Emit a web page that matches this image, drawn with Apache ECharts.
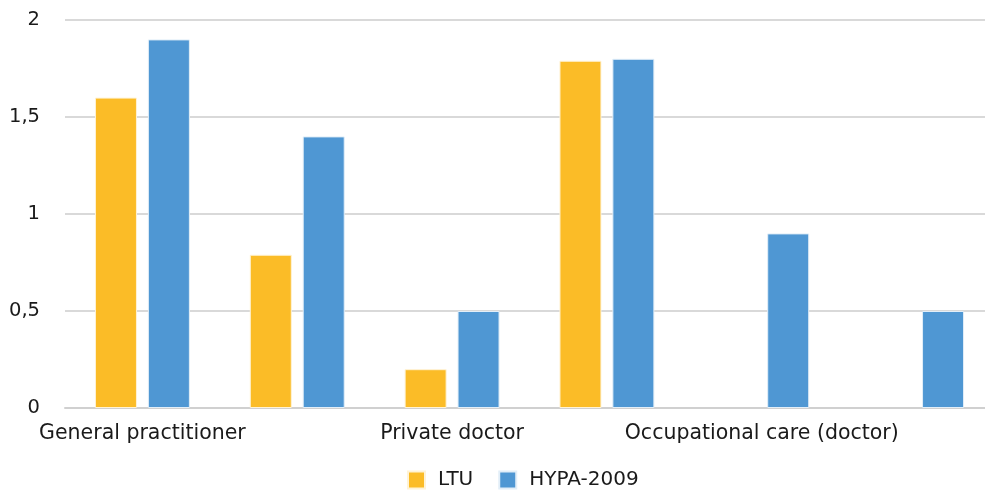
<!DOCTYPE html>
<html style="height: 100%">
<head>
<meta charset="utf-8">
<script src="https://cdn.jsdelivr.net/npm/echarts@6/dist/echarts.min.js"></script>
</head>
<body style="height: 100%; margin: 0; background: #fff">
<div id="container" style="width: 985px; height: 490px"></div>
<script type="text/javascript">
// categories: only every second label is printed in the original
var categories = ['General practitioner', '', 'Private doctor', ' ', 'Occupational care (doctor)', '  '];
var ltu = [1.6, 0.79, 0.2, 1.79, null, null];
var hypa = [1.9, 1.4, 0.5, 1.8, 0.9, 0.5];
var yTicks = [0, 0.5, 1, 1.5, 2];

var font = 'DejaVu Sans';

var dom = document.getElementById('container');
var myChart = echarts.init(dom);

var option = {
    animation: false,
    textStyle: { fontFamily: font },
    grid: {
        left: 65,
        right: -9,
        top: 20,
        bottom: 82,
        containLabel: false,
        outerBoundsMode: 'none'
    },
    legend: {
        top: 470,
        left: 407,
        padding: 0,
        itemWidth: 17,
        itemHeight: 17,
        itemGap: 25,
        icon: 'rect',
        textStyle: { color: '#1a1a1a', fontSize: 20, fontFamily: font, padding: [0, 0, 0, 8] },
        data: ['LTU', 'HYPA-2009']
    },
    xAxis: {
        type: 'category',
        data: categories,
        axisTick: { show: false },
        axisLine: { lineStyle: { color: '#d0d0d0', width: 2 } },
        axisLabel: {
            interval: 1,
            color: '#1a1a1a',
            fontSize: 20.5,
            margin: 15,
            fontFamily: font
        }
    },
    yAxis: {
        type: 'value',
        min: yTicks[0],
        max: yTicks[yTicks.length - 1],
        interval: 0.5,
        axisLine: { show: false },
        axisTick: { show: false },
        axisLabel: {
            color: '#1a1a1a',
            fontSize: 19.5,
            margin: 25,
            fontFamily: font,
            formatter: function (v) { return String(v).replace('.', ','); }
        },
        splitLine: { lineStyle: { color: '#d9d9d9', width: 2 } }
    },
    series: [
        {
            name: 'LTU',
            type: 'bar',
            data: ltu,
            barWidth: 42,
            barGap: '26%',
            itemStyle: { color: '#FBBC27', borderColor: '#fff3d6', borderWidth: 1 }
        },
        {
            name: 'HYPA-2009',
            type: 'bar',
            data: hypa,
            barWidth: 42,
            barGap: '26%',
            itemStyle: { color: '#4F97D3', borderColor: '#e2eef8', borderWidth: 1 }
        }
    ]
};

myChart.setOption(option, true);
window.onresize = function () {
    myChart.resize();
};
</script>
</body>
</html>
